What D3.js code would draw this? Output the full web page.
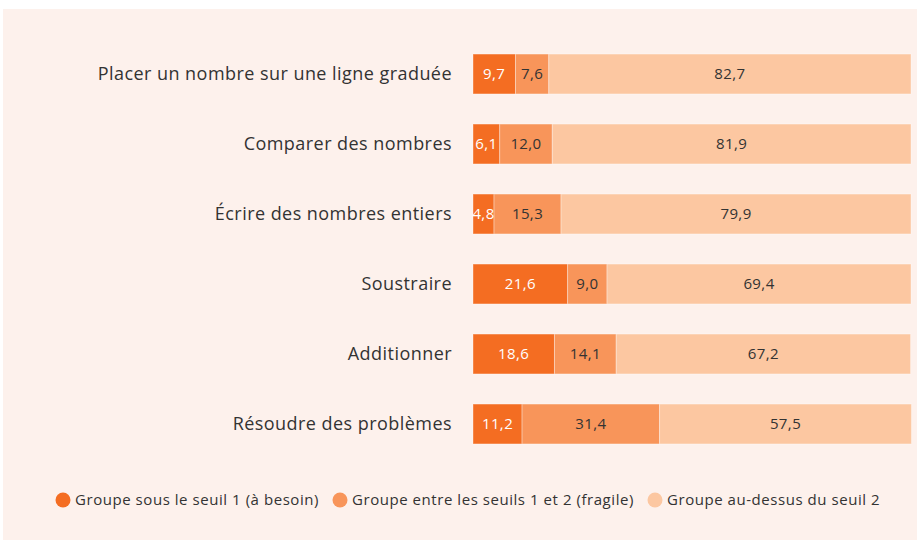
<!DOCTYPE html>
<html>
<head>
<meta charset="utf-8">
<script src="https://cdn.jsdelivr.net/npm/d3@7"></script>
<style>
  body { margin: 0; background: #fff; }
  svg { display: block; font-family: "Open Sans", sans-serif; }
</style>
</head>
<body>
<svg id="chart" width="917" height="545"></svg>
<script>
var categories = [
  "Placer un nombre sur une ligne graduée",
  "Comparer des nombres",
  "Écrire des nombres entiers",
  "Soustraire",
  "Additionner",
  "Résoudre des problèmes"
];
var seriesNames = [
  "Groupe sous le seuil 1 (à besoin)",
  "Groupe entre les seuils 1 et 2 (fragile)",
  "Groupe au-dessus du seuil 2"
];
var besoin = [9.7, 6.1, 4.8, 21.6, 18.6, 11.2];
var fragile = [7.6, 12.0, 15.3, 9.0, 14.1, 31.4];
var dessus = [82.7, 81.9, 79.9, 69.4, 67.2, 57.5];

var colors = ["#f46d22", "#f8955a", "#fcc7a1"];
var textColors = ["#ffffff", "#333333", "#333333"];

var w = 917, h = 545;
var svg = d3.select("#chart");

svg.append("rect").attr("x", 3).attr("y", 9).attr("width", w - 3).attr("height", 531)
  .attr("fill", "#fdf1ec");

var rows = categories.map(function(c, i) {
  return { cat: c, vals: [besoin[i], fragile[i], dessus[i]] };
});

var x = d3.scaleLinear().domain([0, 100]).range([473, 911]);
var y = d3.scaleBand().domain(categories).range([39, 459]).paddingInner(0.43).paddingOuter(0.215);

var fmt = function(v) { return d3.format(".1f")(v).replace(".", ","); };

var row = svg.selectAll("g.row").data(rows).enter().append("g").attr("class", "row");

row.append("text")
  .attr("x", 452).attr("y", function(d) { return y(d.cat) + y.bandwidth() / 2; })
  .attr("dy", "0.35em").attr("text-anchor", "end")
  .attr("font-size", 18).attr("letter-spacing", 0.45).attr("fill", "#333")
  .text(function(d) { return d.cat; });

row.each(function(d) {
  var g = d3.select(this);
  var acc = 0;
  d.vals.forEach(function(v, k) {
    var x0 = x(acc), x1 = x(acc + v);
    g.append("rect")
      .attr("x", x0).attr("y", y(d.cat))
      .attr("width", x1 - x0).attr("height", y.bandwidth())
      .attr("fill", colors[k])
      .attr("stroke", "rgba(255,255,255,0.35)").attr("stroke-width", 1);
    g.append("text")
      .attr("x", (x0 + x1) / 2).attr("y", y(d.cat) + y.bandwidth() / 2)
      .attr("dy", "0.35em").attr("text-anchor", "middle")
      .attr("font-size", 15).attr("letter-spacing", 0.4).attr("fill", textColors[k])
      .text(fmt(v));
    acc += v;
  });
});

// legend
var legendX = [63, 340, 655];
var legend = svg.selectAll("g.legend").data(seriesNames).enter().append("g")
  .attr("class", "legend")
  .attr("transform", function(d, i) { return "translate(" + legendX[i] + ",500)"; });
legend.append("circle").attr("r", 7.5).attr("fill", function(d, i) { return colors[i]; });
legend.append("text").attr("x", 12).attr("dy", "0.35em")
  .attr("font-size", 15).attr("letter-spacing", 0.55).attr("fill", "#333").text(function(d) { return d; });
</script>
</body>
</html>
